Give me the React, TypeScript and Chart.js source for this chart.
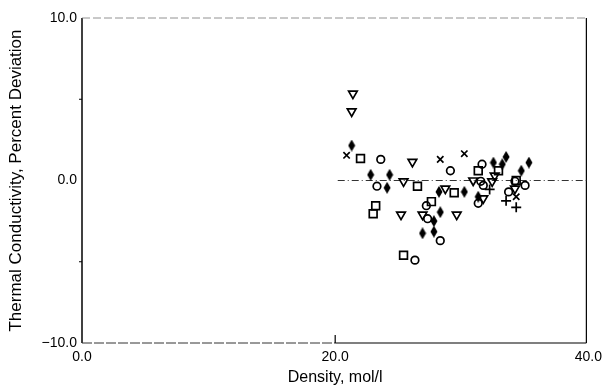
import React, { useEffect, useRef } from "react";
import { Chart, registerables } from "chart.js";

Chart.register(...registerables);

// Density (mol/l) and percent deviation for each marker series
const triDensity = [21.4, 21.3, 26.1, 25.4, 25.2, 26.9, 28.7, 29.6, 30.9, 32.6, 31.7, 32.4, 34.2];
const triDeviation = [5.35, 4.25, 1.15, -0.05, -2.1, -2.1, -0.5, -2.1, 0.0, 0.3, -1.1, -0.05, -0.5];

const sqDensity = [22.0, 23.2, 23.0, 26.5, 25.4, 27.6, 29.4, 31.3, 32.9, 34.3];
const sqDeviation = [1.35, -1.55, -2.05, -0.35, -4.6, -1.3, -0.75, 0.6, 0.6, 0.0];

const circDensity = [23.6, 23.3, 29.1, 27.2, 27.3, 26.3, 28.3, 31.6, 31.5, 31.7, 31.3, 33.7, 34.2, 35.0];
const circDeviation = [1.3, -0.35, 0.6, -1.55, -2.35, -4.9, -3.7, 1.0, -0.05, -0.3, -1.4, -0.7, -0.05, -0.3];

const diaDensity = [21.3, 22.8, 24.3, 24.1, 28.2, 28.3, 27.8, 27.8, 26.9, 30.2, 32.5, 33.2, 33.5, 35.3, 34.7, 31.3];
const diaDeviation = [2.15, 0.35, 0.35, -0.45, -0.7, -1.95, -2.5, -3.15, -3.25, -0.7, 1.1, 1.0, 1.45, 1.1, 0.6, -1.0];

const xDensity = [20.9, 28.3, 30.2, 34.3];
const xDeviation = [1.55, 1.3, 1.65, -1.0];

const plusDensity = [32.2, 33.5, 34.3];
const plusDeviation = [-0.55, -1.25, -1.65];

const xTickValues = [0, 20, 40];
const yLabelValues = [10, 0, -10];

const toPts = (xs: number[], ys: number[]) => xs.map((x, i) => ({ x, y: ys[i] }));

function makeDiamond(): HTMLCanvasElement {
  const c = document.createElement("canvas");
  c.width = 8;
  c.height = 12;
  const g = c.getContext("2d")!;
  g.fillStyle = "#000";
  g.beginPath();
  g.moveTo(4, 0);
  g.lineTo(7.5, 6);
  g.lineTo(4, 12);
  g.lineTo(0.5, 6);
  g.closePath();
  g.fill();
  return c;
}

const framePlugin = {
  id: "frame",
  beforeDatasetsDraw(chart: any) {
    const { ctx, chartArea } = chart;
    const { left, right, top, bottom } = chartArea;
    const xs = chart.scales.x;
    const ys = chart.scales.y;
    ctx.save();
    ctx.strokeStyle = "#000";
    // left axis
    ctx.lineWidth = 1.5;
    ctx.beginPath();
    ctx.moveTo(left, top);
    ctx.lineTo(left, bottom);
    ctx.stroke();
    // right border
    ctx.lineWidth = 1.2;
    ctx.beginPath();
    ctx.moveTo(right - 2, top);
    ctx.lineTo(right - 2, bottom);
    ctx.stroke();
    // bottom axis
    ctx.strokeStyle = "#333";
    ctx.lineWidth = 1;
    ctx.setLineDash([10, 2]);
    ctx.beginPath();
    ctx.moveTo(left, bottom);
    ctx.lineTo(xs.getPixelForValue(20), bottom);
    ctx.stroke();
    ctx.setLineDash([]);
    ctx.strokeStyle = "#000";
    ctx.lineWidth = 1.2;
    ctx.beginPath();
    ctx.moveTo(xs.getPixelForValue(20), bottom);
    ctx.lineTo(right - 2, bottom);
    ctx.stroke();
    // top border dashed
    ctx.strokeStyle = "#777";
    ctx.lineWidth = 0.8;
    ctx.setLineDash([8, 3]);
    ctx.beginPath();
    ctx.moveTo(left, top);
    ctx.lineTo(right - 2, top);
    ctx.stroke();
    // zero line dash-dot
    ctx.strokeStyle = "#333";
    ctx.lineWidth = 1;
    ctx.setLineDash([7, 3, 1, 3]);
    ctx.beginPath();
    const y0 = ys.getPixelForValue(0);
    ctx.moveTo(xs.getPixelForValue(20.2), y0);
    ctx.lineTo(right - 2, y0);
    ctx.stroke();
    ctx.setLineDash([]);
    // inward ticks
    ctx.strokeStyle = "#000";
    ctx.lineWidth = 1.2;
    ctx.beginPath();
    const x20 = xs.getPixelForValue(20);
    ctx.moveTo(x20, bottom);
    ctx.lineTo(x20, bottom - 8);
    [5, -5].forEach((v) => {
      const yy = ys.getPixelForValue(v);
      ctx.moveTo(left, yy);
      ctx.lineTo(left - 3, yy);
    });
    ctx.stroke();
    ctx.restore();
  },
};

export default function App() {
  const ref = useRef<HTMLCanvasElement | null>(null);
  useEffect(() => {
    document.body.style.margin = "0";
    const diamond = makeDiamond();
    const font = { family: "'Liberation Sans', Arial, sans-serif", size: 14 };
    const titleFont = { family: "'Liberation Sans', Arial, sans-serif", size: 16 };
    const yTitleFont = { family: "'Liberation Sans', Arial, sans-serif", size: 17 };
    const common = {
      showLine: false,
      borderColor: "#000",
      backgroundColor: "rgba(0,0,0,0)",
      borderWidth: 1.7,
    };
    const chart = new Chart(ref.current!, {
      type: "scatter",
      data: {
        datasets: [
          { ...common, label: "tri", data: toPts(triDensity, triDeviation), pointStyle: "triangle", rotation: 180, pointRadius: 5 },
          { ...common, label: "sq", data: toPts(sqDensity, sqDeviation), pointStyle: "rect", pointRadius: 5.5 },
          { ...common, label: "circ", data: toPts(circDensity, circDeviation), pointStyle: "circle", pointRadius: 3.8 },
          { ...common, label: "dia", data: toPts(diaDensity, diaDeviation), pointStyle: diamond as any, pointRadius: 5 },
          { ...common, label: "x", data: toPts(xDensity, xDeviation), pointStyle: "crossRot", pointRadius: 4.5 },
          { ...common, label: "plus", data: toPts(plusDensity, plusDeviation), pointStyle: "cross", pointRadius: 5 },
        ],
      },
      options: {
        responsive: false,
        animation: false,
        layout: { padding: { top: 18, right: 18, left: 0, bottom: 0 } },
        plugins: { legend: { display: false }, tooltip: { enabled: false } },
        scales: {
          x: {
            type: "linear",
            min: 0,
            max: 40,
            afterBuildTicks: (s: any) => {
              s.ticks = xTickValues.map((v) => ({ value: v }));
            },
            afterFit: (s: any) => {
              s.height = 44;
            },
            ticks: {
              callback: (v: any) => Number(v).toFixed(1),
              color: "#000",
              font,
              padding: 6,
              maxRotation: 0,
            },
            grid: { display: false, drawTicks: false },
            border: { display: false },
            title: {
              display: true,
              text: "Density, mol/l",
              color: "#000",
              font: titleFont,
              padding: { top: 0, bottom: 0 },
            },
          },
          y: {
            min: -10,
            max: 10,
            afterBuildTicks: (s: any) => {
              s.ticks = yLabelValues.map((v) => ({ value: v }));
            },
            afterFit: (s: any) => {
              s.width = 82;
            },
            ticks: {
              callback: (v: any) => {
                const n = Number(v);
                return n < 0 ? "\u2212" + Math.abs(n).toFixed(1) : n.toFixed(1);
              },
              color: "#000",
              font,
              padding: 5,
            },
            grid: { display: false, drawTicks: false },
            border: { display: false },
            title: {
              display: true,
              text: "Thermal Conductivity, Percent Deviation",
              color: "#000",
              font: yTitleFont,
              padding: { top: 6, bottom: 0 },
            },
          },
        },
      },
      plugins: [framePlugin],
    });
    return () => chart.destroy();
  }, []);
  return (
    <div style={{ position: "fixed", left: 0, top: 0, width: 608, height: 387, background: "#fff" }}>
      <canvas ref={ref} width={608} height={387} style={{ width: 608, height: 387, display: "block" }} />
    </div>
  );
}
